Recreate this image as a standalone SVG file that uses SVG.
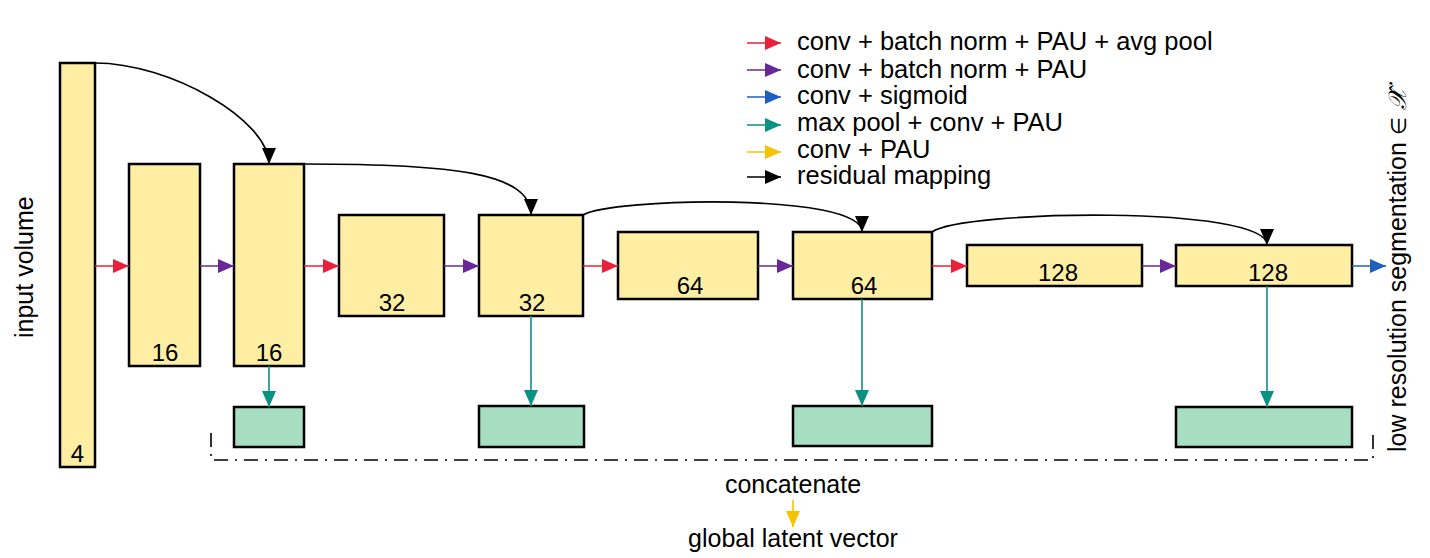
<svg xmlns="http://www.w3.org/2000/svg" width="1430" height="558" viewBox="0 0 1430 558">
<style>
.blk{fill:#FDEEA4;stroke:#000;stroke-width:2.5}
.grn{fill:#A7DEC2;stroke:#000;stroke-width:2.5}
.t{font-family:"Liberation Sans",Arial,sans-serif;font-size:25px;fill:#000}
.lg{font-size:25.5px}
.n{font-family:"Liberation Sans",Arial,sans-serif;font-size:24px;fill:#000;text-anchor:middle}
.ln{fill:none;stroke-width:1.6}
</style>
<defs>
<marker id="mr" markerUnits="userSpaceOnUse" markerWidth="16" markerHeight="14" refX="16" refY="7" orient="auto"><path d="M0,0 L16,7 L0,14 z" fill="#E8203A"/></marker>
<marker id="mp" markerUnits="userSpaceOnUse" markerWidth="16" markerHeight="14" refX="16" refY="7" orient="auto"><path d="M0,0 L16,7 L0,14 z" fill="#6A2797"/></marker>
<marker id="mb" markerUnits="userSpaceOnUse" markerWidth="16" markerHeight="14" refX="16" refY="7" orient="auto"><path d="M0,0 L16,7 L0,14 z" fill="#1E5FBF"/></marker>
<marker id="mt" markerUnits="userSpaceOnUse" markerWidth="16" markerHeight="14" refX="16" refY="7" orient="auto"><path d="M0,0 L16,7 L0,14 z" fill="#0B9183"/></marker>
<marker id="my" markerUnits="userSpaceOnUse" markerWidth="16" markerHeight="14" refX="16" refY="7" orient="auto"><path d="M0,0 L16,7 L0,14 z" fill="#F6C300"/></marker>
<marker id="mk" markerUnits="userSpaceOnUse" markerWidth="16" markerHeight="14" refX="16" refY="7" orient="auto"><path d="M0,0 L16,7 L0,14 z" fill="#000"/></marker>
</defs>

<g id="node-input"><rect class="blk" x="60" y="63" width="35" height="404"/><text class="n" x="77.5" y="462">4</text></g>
<g id="node-16a"><rect class="blk" x="129" y="164" width="71" height="202"/><text class="n" x="165" y="361">16</text></g>
<g id="node-16b"><rect class="blk" x="234" y="164" width="70" height="202"/><text class="n" x="269" y="361">16</text></g>
<g id="node-32a"><rect class="blk" x="339" y="215" width="105" height="101"/><text class="n" x="392" y="311">32</text></g>
<g id="node-32b"><rect class="blk" x="479" y="215" width="104" height="101"/><text class="n" x="532" y="311">32</text></g>
<g id="node-64a"><rect class="blk" x="618" y="232" width="140" height="67"/><text class="n" x="690" y="294">64</text></g>
<g id="node-64b"><rect class="blk" x="793" y="232" width="139" height="67"/><text class="n" x="864" y="294">64</text></g>
<g id="node-128a"><rect class="blk" x="967" y="245" width="175" height="41"/><text class="n" x="1058" y="281">128</text></g>
<g id="node-128b"><rect class="blk" x="1176" y="245" width="176" height="41"/><text class="n" x="1268" y="281">128</text></g>
<g id="node-g1"><rect class="grn" x="234" y="407" width="70" height="40"/></g>
<g id="node-g2"><rect class="grn" x="479" y="406" width="105" height="41"/></g>
<g id="node-g3"><rect class="grn" x="793" y="406" width="139" height="40"/></g>
<g id="node-g4"><rect class="grn" x="1176" y="407" width="176" height="40"/></g>

<g id="connectors">
<line class="ln" stroke="#E8203A" x1="95" y1="266" x2="129" y2="266" marker-end="url(#mr)"/>
<line class="ln" stroke="#6A2797" x1="200" y1="266" x2="234" y2="266" marker-end="url(#mp)"/>
<line class="ln" stroke="#E8203A" x1="304" y1="266" x2="339" y2="266" marker-end="url(#mr)"/>
<line class="ln" stroke="#6A2797" x1="444" y1="266" x2="479" y2="266" marker-end="url(#mp)"/>
<line class="ln" stroke="#E8203A" x1="583" y1="266" x2="618" y2="266" marker-end="url(#mr)"/>
<line class="ln" stroke="#6A2797" x1="758" y1="266" x2="793" y2="266" marker-end="url(#mp)"/>
<line class="ln" stroke="#E8203A" x1="932" y1="266" x2="967" y2="266" marker-end="url(#mr)"/>
<line class="ln" stroke="#6A2797" x1="1142" y1="266" x2="1176" y2="266" marker-end="url(#mp)"/>
<line class="ln" stroke="#1E5FBF" x1="1352" y1="266" x2="1386" y2="266" marker-end="url(#mb)"/>
<line class="ln" stroke="#0B9183" x1="269" y1="366" x2="269" y2="407" marker-end="url(#mt)"/>
<line class="ln" stroke="#0B9183" x1="531" y1="316" x2="531" y2="406" marker-end="url(#mt)"/>
<line class="ln" stroke="#0B9183" x1="862" y1="299" x2="862" y2="406" marker-end="url(#mt)"/>
<line class="ln" stroke="#0B9183" x1="1267" y1="286" x2="1267" y2="407" marker-end="url(#mt)"/>
<path class="ln" stroke="#000" d="M95,63 C170,63 269,120 269,164" marker-end="url(#mk)"/>
<path class="ln" stroke="#000" d="M304,164 C450,164 531,172 531,215" marker-end="url(#mk)"/>
<path class="ln" stroke="#000" d="M583,215 C610,198 862,192 862,232" marker-end="url(#mk)"/>
<path class="ln" stroke="#000" d="M932,232 C962,210 1267,205 1267,245" marker-end="url(#mk)"/>
<path fill="none" stroke="#000" stroke-width="1.6" stroke-dasharray="14,7,2,7" d="M211,433 L211,460 L1373,460 L1373,433"/>
<line class="ln" stroke="#F6C300" x1="793" y1="500" x2="793" y2="527" marker-end="url(#my)"/>
</g>

<g id="legend">
<line class="ln" stroke="#E8203A" x1="747" y1="43" x2="781" y2="43" marker-end="url(#mr)"/>
<line class="ln" stroke="#6A2797" x1="747" y1="70" x2="781" y2="70" marker-end="url(#mp)"/>
<line class="ln" stroke="#1E5FBF" x1="747" y1="97" x2="781" y2="97" marker-end="url(#mb)"/>
<line class="ln" stroke="#0B9183" x1="747" y1="125" x2="781" y2="125" marker-end="url(#mt)"/>
<line class="ln" stroke="#F6C300" x1="747" y1="152" x2="781" y2="152" marker-end="url(#my)"/>
<line class="ln" stroke="#000" x1="747" y1="177" x2="781" y2="177" marker-end="url(#mk)"/>
<text class="t lg" x="797" y="50">conv + batch norm + PAU + avg pool</text>
<text class="t lg" x="797" y="78">conv + batch norm + PAU</text>
<text class="t lg" x="797" y="104">conv + sigmoid</text>
<text class="t lg" x="797" y="131">max pool + conv + PAU</text>
<text class="t lg" x="797" y="158">conv + PAU</text>
<text class="t lg" x="797" y="184">residual mapping</text>
</g>

<text class="t" transform="translate(33,338) rotate(-90)">input volume</text>
<text class="t" transform="translate(1406,452) rotate(-90)">low resolution segmentation <tspan font-family="'DejaVu Sans',sans-serif" font-size="21">∈</tspan> <tspan font-family="'DejaVu Sans','Noto Sans',serif" font-style="italic">𝒳̂</tspan></text>
<text class="t" x="793" y="493" text-anchor="middle">concatenate</text>
<text class="t" x="793" y="547" text-anchor="middle">global latent vector</text>
</svg>
